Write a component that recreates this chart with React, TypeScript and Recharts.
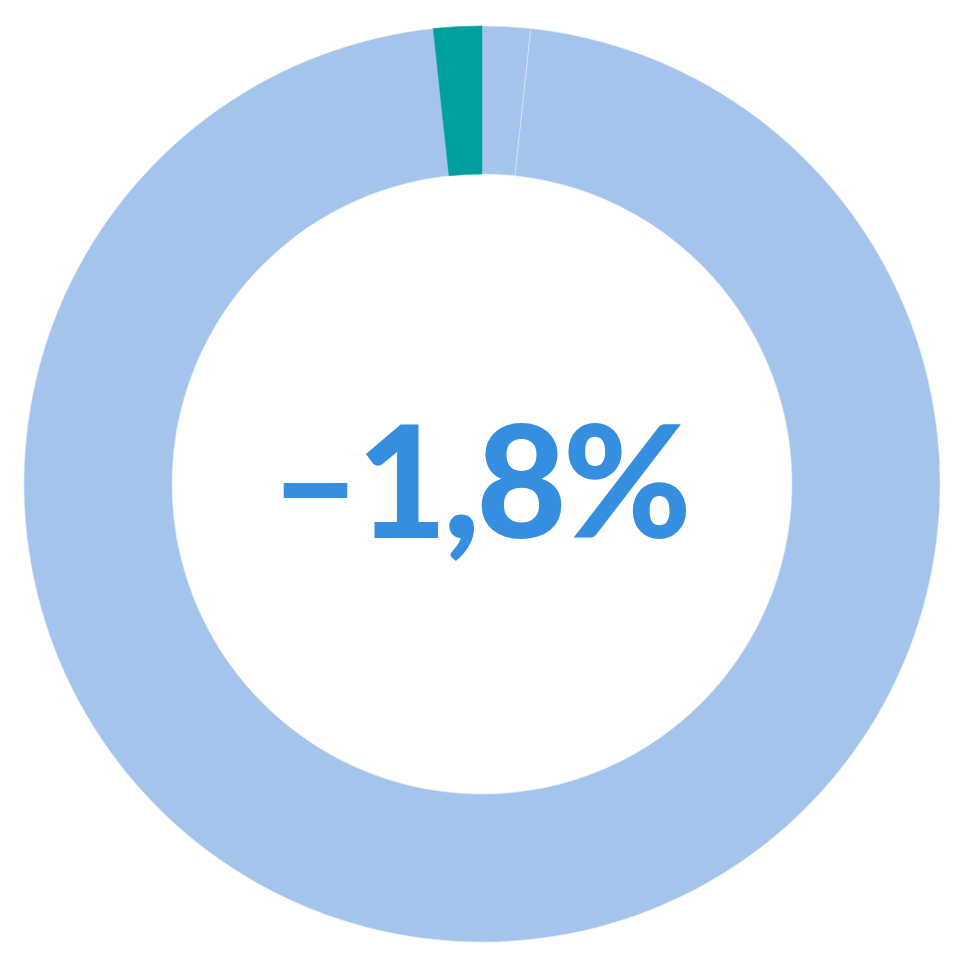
import { PieChart, Pie, Cell, Label } from 'recharts'

const SLICE_NAMES = ['Previous', 'Rest', 'Change']
const SLICE_VALUES = [1.7, 96.6, 1.7]
const SLICE_COLORS = ['#A5C4EC', '#A5C4EC', '#00A19D']
const SLICE_STROKES = ['#DCE8F8', '#DCE8F8', '#00A19D']
const CENTER_LABEL = '–1,8%'

const data = SLICE_NAMES.map((name, i) => ({ name, value: SLICE_VALUES[i] }))

const CX = 474
const CY = 476

function CenterText() {
  return (
    <text
      x={CX - 3}
      y={CY + 54}
      textAnchor="middle"
      fill="#358EDF"
      style={{ fontFamily: 'Lato', fontWeight: 900, fontSize: 156, letterSpacing: -4 }}
    >
      {CENTER_LABEL}
    </text>
  )
}

export default function App() {
  return (
    <PieChart width={950} height={950} margin={{ top: 0, right: 0, bottom: 0, left: 0 }}>
      <Pie
        data={data}
        dataKey="value"
        cx={CX}
        cy={CY}
        innerRadius={310}
        outerRadius={458}
        startAngle={90}
        endAngle={-270}
        strokeWidth={0.6}
        isAnimationActive={false}
      >
        {data.map((entry, index) => (
          <Cell key={`cell-${index}`} fill={SLICE_COLORS[index]} stroke={SLICE_STROKES[index]} />
        ))}
        <Label position="center" content={CenterText} />
      </Pie>
    </PieChart>
  )
}
